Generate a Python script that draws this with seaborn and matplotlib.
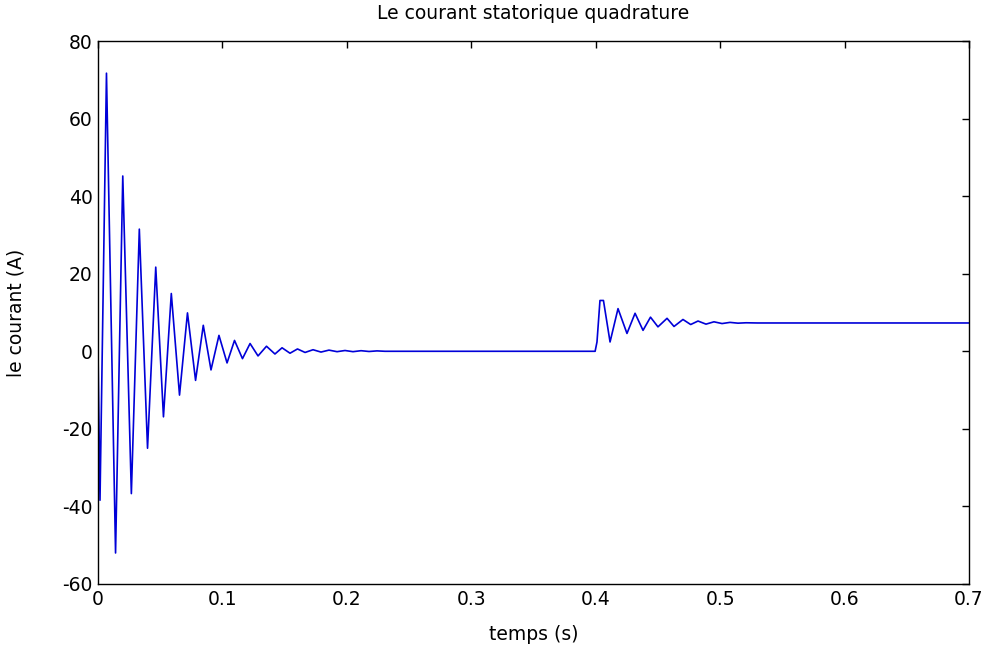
import matplotlib
matplotlib.use("Agg")
import matplotlib.pyplot as plt
import seaborn as sns
import pandas as pd

# Extrema / breakpoints (time in s, current in A)
t_start = [0.0, 0.0016, 0.0068, 0.0141, 0.0199, 0.0268, 0.0332, 0.0398, 0.0464,
           0.0526, 0.0589, 0.0655, 0.0719, 0.0784, 0.0846, 0.0908, 0.0972, 0.1037,
           0.1097, 0.1161, 0.1222, 0.1286, 0.1354, 0.1422, 0.1479, 0.1543, 0.1603,
           0.1664, 0.1728, 0.1792, 0.1856, 0.1921, 0.1985, 0.2049, 0.2114, 0.2178,
           0.2242, 0.2306]
i_start = [0.0, -38.4, 71.7, -52.0, 45.2, -36.7, 31.5, -25.0, 21.7,
           -16.9, 14.9, -11.3, 9.9, -7.5, 6.7, -4.8, 4.1, -3.0,
           2.8, -1.9, 2.0, -1.2, 1.3, -0.7, 0.9, -0.5, 0.6,
           -0.3, 0.4, -0.2, 0.3, -0.1, 0.2, -0.1, 0.15, -0.05,
           0.1, 0.0]

t_load = [0.3995, 0.4010, 0.4034, 0.4062, 0.4115, 0.4179, 0.4251, 0.4316, 0.4380,
          0.4440, 0.4500, 0.4573, 0.4629, 0.4701, 0.4763, 0.4822, 0.4886, 0.4950,
          0.5015, 0.5079, 0.5143, 0.5208, 0.5300, 0.7000]
i_load = [0.0, 2.4, 13.1, 13.1, 2.4, 11.0, 4.6, 9.8, 5.4,
          8.8, 6.3, 8.5, 6.4, 8.2, 6.9, 7.8, 7.0, 7.6,
          7.15, 7.45, 7.25, 7.35, 7.3, 7.3]

x_ticks = [0, 0.1, 0.2, 0.3, 0.4, 0.5, 0.6, 0.7]
x_tick_labels = ["0", "0.1", "0.2", "0.3", "0.4", "0.5", "0.6", "0.7"]
y_ticks = [-60, -40, -20, 0, 20, 40, 60, 80]
y_tick_labels = ["-60", "-40", "-20", "0", "20", "40", "60", "80"]

df = pd.DataFrame({"t": t_start + t_load, "i": i_start + i_load})

sns.set_style("white")
plt.rcParams["font.family"] = ["DejaVu Sans"]
plt.rcParams["text.color"] = "black"
plt.rcParams["axes.labelcolor"] = "black"

fig = plt.figure(figsize=(9.87, 6.46), dpi=100)
ax = fig.add_axes([0.0993, 0.096, 0.8825, 0.8405])
sns.lineplot(data=df, x="t", y="i", ax=ax, estimator=None, sort=False,
             color="#0000d8", linewidth=1.2)

ax.set_xlim(0, 0.7)
ax.set_ylim(-60, 80)
ax.set_xticks(x_ticks)
ax.set_xticklabels(x_tick_labels)
ax.set_yticks(y_ticks)
ax.set_yticklabels(y_tick_labels)
ax.tick_params(direction="in", length=5, width=1, top=True, right=True,
               labelsize=13.5, colors="black", pad=4)
for s in ax.spines.values():
    s.set_color("black")
    s.set_linewidth(1)
    s.set_visible(True)

ax.set_title("Le courant statorique quadrature", fontsize=13.5, pad=16,
             color="black")
ax.set_xlabel("temps (s)", fontsize=13.5, labelpad=12, color="black")
ax.set_ylabel("le courant (A)", fontsize=13.5, labelpad=26, color="black")

fig.savefig("out.png", dpi=100, facecolor="white")
